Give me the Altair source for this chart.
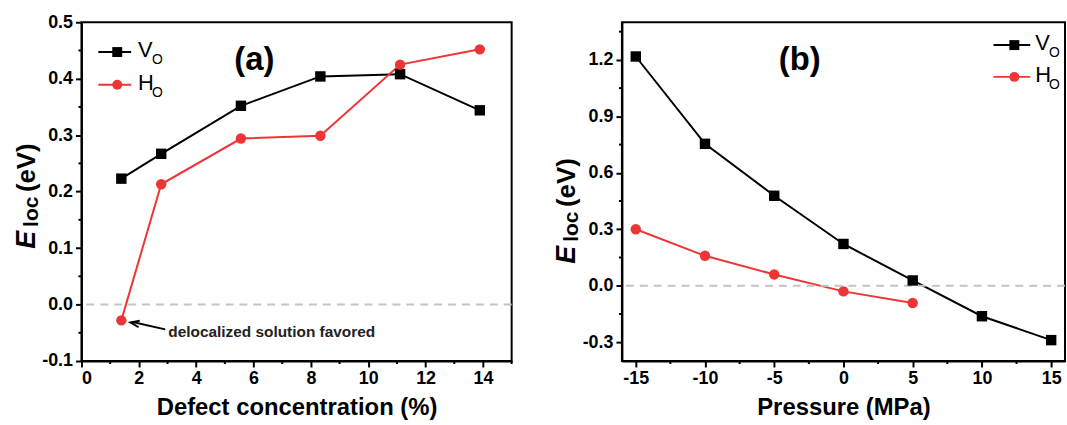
import altair as alt
import pandas as pd

FONT = "Liberation Sans"
RED = "#ee3535"

# ---------------- data ----------------
series = ["VO", "HO"]
legend_main = ["V", "H"]
legend_sub = "O"
colors = ["#000000", RED]
shapes = ["square", "circle"]

conc = [1.39, 2.78, 5.56, 8.33, 11.11, 13.89]
vo_a = [0.223, 0.267, 0.352, 0.404, 0.408, 0.344]
ho_a = [-0.028, 0.213, 0.294, 0.299, 0.425, 0.452]

pressure_v = [-15, -10, -5, 0, 5, 10, 15]
vo_b = [1.218, 0.754, 0.478, 0.222, 0.028, -0.162, -0.289]
pressure_h = [-15, -10, -5, 0, 5]
ho_b = [0.300, 0.159, 0.060, -0.030, -0.092]

xa_major = [0, 2, 4, 6, 8, 10, 12, 14]
xa_minor = [1, 3, 5, 7, 9, 11, 13, 15]
ya_major = [-0.1, 0.0, 0.1, 0.2, 0.3, 0.4, 0.5]
ya_minor = [-0.05, 0.05, 0.15, 0.25, 0.35, 0.45]
xb_major = [-15, -10, -5, 0, 5, 10, 15]
xb_minor = [-12.5, -7.5, -2.5, 2.5, 7.5, 12.5]
yb_major = [-0.3, 0.0, 0.3, 0.6, 0.9, 1.2]
yb_minor = [-0.15, 0.15, 0.45, 0.75, 1.05, 1.35]

xa_domain = [0, 15]
ya_domain = [-0.1, 0.5]
xb_domain = [-16, 16]
yb_domain = [-0.4, 1.4]

zero_line = [0.0]

annot_text = ["delocalized solution favored"]
annot_text_x = [3.03]
annot_text_y = [-0.049]
arrow_head_x = [1.86]
arrow_head_y = [-0.033]
arrow_x = [1.78]
arrow_y = [-0.031]
arrow_x2 = [2.92]
arrow_y2 = [-0.044]

W_A, W_B, H = 433, 446, 341
one = pd.DataFrame({"k": [0]})

MINUS_FIX = "replace(datum.label, '\u2212', '-')"


def mk_axis(values, fmt, title=None):
    return alt.Axis(values=values, format=fmt, title=title, grid=False,
                    labelExpr=MINUS_FIX,
                    tickSize=6, tickWidth=2, tickColor="black",
                    domainColor="black", domainWidth=2,
                    labelFont=FONT, labelFontSize=18, labelFontWeight="bold",
                    labelColor="black", labelPadding=3,
                    titleFont=FONT, titleFontSize=24, titleFontWeight="bold",
                    titleColor="black", titlePadding=8)


def panel(df, xscale, yscale, xaxis, yaxis, xminor, yminor,
          leg, label, label_pos, ytitle):
    color = alt.Color("s:N", scale=alt.Scale(domain=series, range=colors), legend=None)
    shape = alt.Shape("s:N", scale=alt.Scale(domain=series, range=shapes), legend=None)
    base = alt.Chart(df)
    lines = base.mark_line(strokeWidth=2).encode(
        x=alt.X("x:Q", scale=xscale, axis=xaxis),
        y=alt.Y("y:Q", scale=yscale, axis=yaxis),
        color=color, detail="s:N")
    pts = base.mark_point(filled=True, opacity=1, size=110).encode(
        x=alt.X("x:Q", scale=xscale, axis=xaxis),
        y=alt.Y("y:Q", scale=yscale, axis=yaxis),
        color=color, shape=shape)
    zero = alt.Chart(pd.DataFrame({"z": zero_line})).mark_rule(
        color="#c4c4c4", strokeWidth=2, strokeDash=[8, 6]).encode(
        y=alt.Y("z:Q", scale=yscale, axis=yaxis))
    xm = alt.Chart(pd.DataFrame({"v": xminor})).mark_rule(color="black", strokeWidth=2).encode(
        x=alt.X("v:Q", scale=xscale, axis=xaxis), y=alt.value(H), y2=alt.value(H + 3))
    ym = alt.Chart(pd.DataFrame({"v": yminor})).mark_rule(color="black", strokeWidth=2).encode(
        y=alt.Y("v:Q", scale=yscale, axis=yaxis), x=alt.value(0), x2=alt.value(-3))
    layers = [lines, zero, pts, xm, ym]
    # manual legend
    lx0, lx1, mx, tx, ly = leg
    for i, s in enumerate(series):
        yy = ly[i]
        layers.append(alt.Chart(one).mark_rule(color=colors[i], strokeWidth=2).encode(
            x=alt.value(lx0), x2=alt.value(lx1), y=alt.value(yy)))
        layers.append(alt.Chart(one).mark_point(filled=True, opacity=1, size=100,
                                                shape=shapes[i], color=colors[i]).encode(
            x=alt.value(mx), y=alt.value(yy)))
        layers.append(alt.Chart(one).mark_text(text=legend_main[i], font=FONT, fontSize=22,
                                               align="left", baseline="alphabetic",
                                               color="black").encode(
            x=alt.value(tx), y=alt.value(yy + 5)))
        layers.append(alt.Chart(one).mark_text(text=legend_sub, font=FONT, fontSize=14,
                                               align="left", baseline="alphabetic",
                                               color="black").encode(
            x=alt.value(tx + 14), y=alt.value(yy + 12)))
    # panel label
    layers.append(alt.Chart(one).mark_text(text=label, font=FONT, fontSize=33,
                                           fontWeight="bold", align="center",
                                           baseline="middle", color="black").encode(
        x=alt.value(label_pos[0]), y=alt.value(label_pos[1])))
    # rotated y title: E (italic) + loc (subscript) + (eV)
    ex, ey, ly_, py_ = ytitle
    layers.append(alt.Chart(one).mark_text(text="E", font=FONT, fontSize=27, fontWeight="bold",
                                           fontStyle="italic", angle=270, align="left",
                                           baseline="alphabetic", color="black").encode(
        x=alt.value(ex), y=alt.value(ey)))
    layers.append(alt.Chart(one).mark_text(text="loc", font=FONT, fontSize=21, fontWeight="bold",
                                           angle=270, align="left",
                                           baseline="alphabetic", color="black").encode(
        x=alt.value(ex + 3), y=alt.value(ly_)))
    layers.append(alt.Chart(one).mark_text(text="(eV)", font=FONT, fontSize=26, fontWeight="bold",
                                           angle=270, align="left",
                                           baseline="alphabetic", color="black").encode(
        x=alt.value(ex), y=alt.value(py_)))
    return layers


# ---------- panel (a) ----------
df_a = pd.DataFrame({
    "x": conc + conc,
    "y": vo_a + ho_a,
    "s": [series[0]] * len(conc) + [series[1]] * len(conc),
})
xs_a = alt.Scale(domain=xa_domain, nice=False, zero=False)
ys_a = alt.Scale(domain=ya_domain, nice=False, zero=False)
xax_a = mk_axis(xa_major, "d", "Defect concentration (%)")
yax_a = mk_axis(ya_major, ".1f")
layers_a = panel(df_a, xs_a, ys_a, xax_a, yax_a, xa_minor, ya_minor,
                 (17, 50, 36, 57, [30, 63]), "(a)", (174, 38),
                 (-47, 228, 206, 171))
ann = pd.DataFrame({"t": annot_text, "x": annot_text_x, "y": annot_text_y})
layers_a.append(alt.Chart(ann).mark_text(font=FONT, fontSize=15.5, fontWeight="bold",
                                         align="left", baseline="middle", color="#222222").encode(
    x=alt.X("x:Q", scale=xs_a, axis=xax_a), y=alt.Y("y:Q", scale=ys_a, axis=yax_a), text="t:N"))
arr = pd.DataFrame({"x": arrow_x, "y": arrow_y, "x2": arrow_x2, "y2": arrow_y2,
                    "hx": arrow_head_x, "hy": arrow_head_y})
layers_a.append(alt.Chart(arr).mark_rule(color="black", strokeWidth=2).encode(
    x=alt.X("x:Q", scale=xs_a, axis=xax_a), y=alt.Y("y:Q", scale=ys_a, axis=yax_a),
    x2="x2:Q", y2="y2:Q"))
layers_a.append(alt.Chart(arr).mark_point(shape="M 1 -0.75 L -1 0 L 1 0.75", filled=False,
                                          color="black", strokeWidth=2, size=80, angle=10,
                                          opacity=1).encode(
    x=alt.X("hx:Q", scale=xs_a, axis=xax_a), y=alt.Y("hy:Q", scale=ys_a, axis=yax_a)))
chart_a = alt.layer(*layers_a).properties(width=W_A, height=H)

# ---------- panel (b) ----------
df_b = pd.DataFrame({
    "x": pressure_v + pressure_h,
    "y": vo_b + ho_b,
    "s": [series[0]] * len(pressure_v) + [series[1]] * len(pressure_h),
})
xs_b = alt.Scale(domain=xb_domain, nice=False, zero=False)
ys_b = alt.Scale(domain=yb_domain, nice=False, zero=False)
xax_b = mk_axis(xb_major, "d", "Pressure (MPa)")
yax_b = mk_axis(yb_major, ".1f")
layers_b = panel(df_b, xs_b, ys_b, xax_b, yax_b, xb_minor, yb_minor,
                 (374, 411, 395, 416, [23, 55]), "(b)", (179, 38),
                 (-47, 243, 221, 186))
chart_b = alt.layer(*layers_b).properties(width=W_B, height=H)

chart = alt.hconcat(chart_a, chart_b, spacing=39).properties(
    padding={"left": 12, "top": 11, "right": 0, "bottom": 0}
).configure_view(stroke="black", strokeWidth=2)

chart.save("out.html", embed_options={"renderer": "svg", "actions": False})
